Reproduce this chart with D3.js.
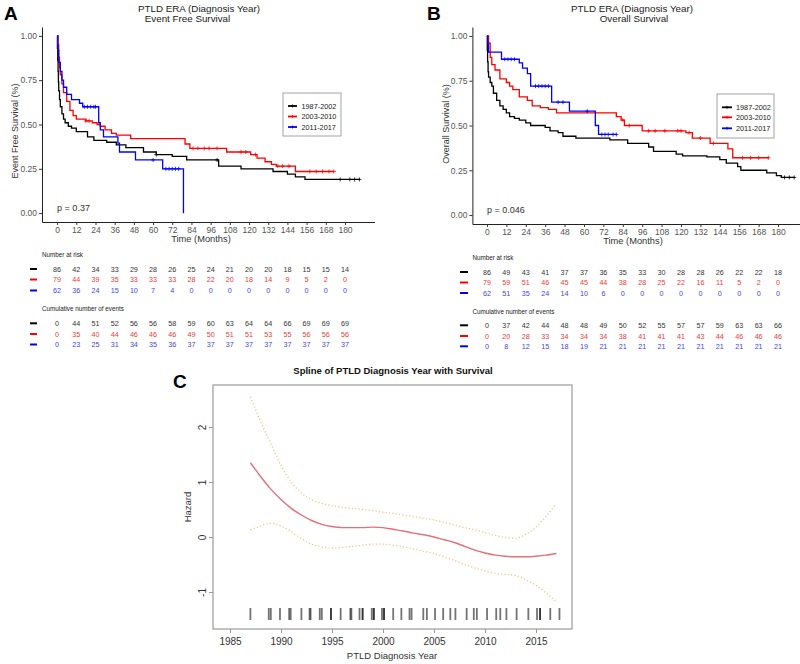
<!DOCTYPE html>
<html><head><meta charset="utf-8">
<script src="https://cdn.jsdelivr.net/npm/d3@7"></script>
<style>body{margin:0;background:#fff} svg{font-family:"Liberation Sans",Arial,sans-serif}</style>
</head><body><svg id="c" width="800" height="664"></svg>
<script>
// ---------------- DATA ----------------
const groups = ["1987-2002", "2003-2010", "2011-2017"];
const timeTicks = [0,12,24,36,48,60,72,84,96,108,120,132,144,156,168,180];
const survTicks = [0, 0.25, 0.5, 0.75, 1];

// Panel A : Event free survival (time in months, survival)
const efsBlack = [[0,1],[0.2,0.93],[0.4,0.86],[0.6,0.80],[0.8,0.74],[1,0.69],[1.5,0.64],[2,0.60],[3,0.56],[4,0.53],[5,0.51],[7,0.49],[9,0.48],[12,0.46],[19,0.43],[23,0.41],[31,0.40],[37,0.385],[43,0.37],[54,0.345],[62,0.33],[72,0.32],[81,0.30],[101,0.265],[115,0.25],[135,0.235],[144,0.22],[149,0.205],[155,0.19],[189,0.19]];
const efsRed = [[0,1],[0.5,0.95],[1,0.88],[1.5,0.82],[2,0.78],[3,0.73],[4,0.68],[6,0.63],[8,0.58],[10,0.55],[12,0.53],[18,0.52],[22,0.51],[25,0.50],[27,0.49],[30,0.47],[34,0.45],[37,0.44],[46,0.42],[80,0.39],[83,0.365],[106,0.345],[121,0.33],[125,0.31],[130,0.29],[134,0.275],[137,0.265],[149,0.235],[173,0.235]];
const efsBlue = [[0,1],[0.5,0.92],[1,0.85],[2,0.80],[3,0.75],[4,0.71],[6,0.67],[9,0.64],[14,0.62],[16,0.60],[26,0.51],[27,0.47],[29,0.43],[38,0.395],[39,0.345],[49,0.30],[66,0.25],[79,0]];
const efsCensorBlack = [62, 100, 177, 183, 186, 189];
const efsCensorRed = [18, 20, 85, 88, 92, 95, 100, 115, 118, 124, 138, 141, 145, 158, 162, 166, 170, 173];
const efsCensorBlue = [17, 19, 21, 23, 24, 60, 68, 70, 72, 74, 76];
const efsRisk = [
  [86,42,34,33,29,28,26,25,24,21,20,20,18,15,15,14],
  [79,44,39,35,33,33,33,28,22,20,18,14,9,5,2,0],
  [62,36,24,15,10,7,4,0,0,0,0,0,0,0,0,0]];
const efsEvents = [
  [0,44,51,52,56,56,58,59,60,63,64,64,66,69,69,69],
  [0,35,40,44,46,46,46,49,50,51,51,53,55,56,56,56],
  [0,23,25,31,34,35,36,37,37,37,37,37,37,37,37,37]];

// Panel B : Overall survival
const osBlack = [[0,1],[0.2,0.92],[0.4,0.855],[0.7,0.80],[1,0.77],[2,0.74],[3,0.72],[4,0.68],[6,0.64],[8,0.61],[10,0.59],[12,0.57],[14,0.55],[17,0.54],[20,0.53],[24,0.515],[27,0.50],[36,0.49],[39,0.47],[44,0.46],[47,0.44],[55,0.43],[76,0.42],[87,0.40],[100,0.38],[103,0.355],[117,0.34],[121,0.33],[136,0.325],[144,0.31],[148,0.29],[155,0.27],[157,0.25],[173,0.235],[179,0.22],[182,0.21],[190,0.21]];
const osRed = [[0,1],[1,0.96],[2,0.88],[3,0.84],[5,0.81],[8,0.76],[12,0.74],[14,0.72],[16,0.70],[20,0.66],[25,0.64],[28,0.61],[33,0.60],[38,0.59],[43,0.57],[80,0.55],[83,0.53],[85,0.50],[96,0.47],[123,0.46],[127,0.43],[138,0.40],[149,0.37],[152,0.32],[174,0.32]];
const osBlue = [[0,1],[0.5,0.96],[1,0.91],[9,0.87],[20,0.85],[22,0.82],[25,0.79],[27,0.72],[40,0.63],[51,0.58],[67,0.50],[69,0.45],[80,0.45]];
const osCensorBlack = [184, 187, 190];
const osCensorRed = [84, 88, 100, 104, 110, 118, 120, 125, 132, 140, 158, 163, 168, 174];
const osCensorBlue = [11, 13, 15, 17, 30, 32, 34, 36, 38, 44, 47, 62, 71, 73, 75, 78, 80];
const osRisk = [
  [86,49,43,41,37,37,36,35,33,30,28,28,26,22,22,18],
  [79,59,51,46,45,45,44,38,28,25,22,16,11,5,2,0],
  [62,51,35,24,14,10,6,0,0,0,0,0,0,0,0,0]];
const osEvents = [
  [0,37,42,44,48,48,49,50,52,55,57,57,59,63,63,66],
  [0,20,28,33,34,34,34,38,41,41,41,43,44,46,46,46],
  [0,8,12,15,18,19,21,21,21,21,21,21,21,21,21,21]];

// Panel C : spline of diagnosis year
const yearTicks = [1985,1990,1995,2000,2005,2010,2015];
const hazardTicks = [-1,0,1,2];
const splineYear = [1987,1988,1989,1990,1991,1992,1993,1994,1995,1996,1997,1998,1999,2000,2001,2002,2003,2004,2005,2006,2007,2008,2009,2010,2011,2012,2013,2014,2015,2016,2017];
const hazard = [1.35,1.1,0.87,0.68,0.52,0.40,0.30,0.23,0.19,0.17,0.17,0.17,0.18,0.17,0.14,0.11,0.07,0.04,0.00,-0.05,-0.10,-0.17,-0.24,-0.29,-0.33,-0.35,-0.36,-0.36,-0.35,-0.33,-0.30];
const hazardUpper = [2.55,2.1,1.7,1.3,1.0,0.8,0.68,0.61,0.57,0.54,0.52,0.50,0.48,0.45,0.43,0.40,0.37,0.34,0.31,0.27,0.22,0.17,0.13,0.08,0.03,-0.01,-0.02,0.05,0.18,0.38,0.60];
const hazardLower = [0.13,0.2,0.25,0.2,0.1,-0.03,-0.13,-0.18,-0.2,-0.19,-0.17,-0.15,-0.13,-0.13,-0.15,-0.18,-0.22,-0.26,-0.30,-0.36,-0.43,-0.50,-0.56,-0.62,-0.66,-0.68,-0.70,-0.78,-0.88,-1.02,-1.18];
const rugYears = [1987,1988.8,1989.0,1989.9,1990.8,1990.95,1992.0,1992.8,1992.9,1993.8,1994.0,1994.9,1994.9,1995.85,1996.8,1996.9,1997.7,1998.0,1998.0,1998.9,1999.1,1999.1,1999.9,2000.1,2000.1,2001.0,2001.8,2002.6,2002.8,2003.95,2004.3,2005.1,2005.9,2006.6,2007.1,2008.2,2008.9,2009.2,2010.2,2011.1,2011.5,2012.1,2013.1,2014.25,2015.1,2015.4,2015.4,2016.4,2017.3];

// ---------------- DRAWING ----------------
const svg = d3.select("#c");
const lineCol = ["#000000", "#ff0000", "#0000ff"];
const textCol = ["#333333", "#f03a3a", "#3f3ff0"];

function survAt(series, t) {
  let s = series[0][1];
  for (const p of series) { if (p[0] <= t) s = p[1]; }
  return s;
}

function kmPanel(cfg) {
  const g = svg.append("g");
  const x = cfg.x, y = cfg.y;
  const y0 = y.range()[0];
  const xa = g.append("g").attr("transform", `translate(0,${y0})`)
    .call(d3.axisBottom(x).tickValues(timeTicks).tickSize(3).tickPadding(2).tickSizeOuter(0));
  const ya = g.append("g").attr("transform", `translate(${x.range()[0]},0)`)
    .call(d3.axisLeft(y).tickValues(survTicks).tickFormat(d3.format(".2f")).tickSize(3).tickPadding(2).tickSizeOuter(0));
  [xa, ya].forEach(a => {
    a.select(".domain").attr("stroke", "#222").attr("stroke-width", 1);
    a.selectAll(".tick line").attr("stroke", "#333");
    a.selectAll("text").attr("fill", "#555").style("font-size", "8.5px").style("font-family", '"Liberation Sans",Arial,sans-serif');
  });
  const line = d3.line().x(d => x(d[0])).y(d => y(d[1])).curve(d3.curveStepAfter);
  cfg.series.forEach((s, i) => {
    g.append("path").datum(s).attr("d", line).attr("fill", "none")
      .attr("stroke", lineCol[i]).attr("stroke-width", 1.3);
    cfg.censor[i].forEach(t => {
      const cx = x(t), cy = y(survAt(s, t));
      g.append("path").attr("d", `M${cx-2},${cy}H${cx+2}M${cx},${cy-2}V${cy+2}`)
        .attr("stroke", lineCol[i]).attr("stroke-width", 0.8);
    });
  });
  g.append("text").attr("x", cfg.t1[0]).attr("y", cfg.t1[1]).attr("text-anchor", "middle")
    .style("font-size", "9.8px").attr("fill", "#222").text("PTLD ERA (Diagnosis Year)");
  g.append("text").attr("x", cfg.t2[0]).attr("y", cfg.t2[1]).attr("text-anchor", "middle")
    .style("font-size", "9.8px").attr("fill", "#222").text(cfg.sub);
  g.append("text").attr("x", cfg.label[0]).attr("y", cfg.label[1])
    .style("font-size", "19px").style("font-weight", "bold").text(cfg.letter);
  g.append("text").attr("transform", `translate(${cfg.ytitle[0]},${cfg.ytitle[1]}) rotate(-90)`)
    .attr("text-anchor", "middle").style("font-size", "9px").attr("fill", "#333").text(cfg.ylab);
  g.append("text").attr("x", cfg.xtitle[0]).attr("y", cfg.xtitle[1]).attr("text-anchor", "middle")
    .style("font-size", "9.3px").attr("fill", "#333").text("Time (Months)");
  g.append("text").attr("x", x(0)).attr("y", cfg.pY).style("font-size", "9px").attr("fill", "#333").text(cfg.p);
  const L = cfg.legend;
  g.append("rect").attr("x", L.x).attr("y", L.y).attr("width", L.w).attr("height", L.h)
    .attr("fill", "#fff").attr("stroke", "#999").attr("stroke-width", 0.9);
  groups.forEach((name, i) => {
    const ly = L.rows[i];
    g.append("line").attr("x1", L.kx[0]).attr("x2", L.kx[1]).attr("y1", ly).attr("y2", ly)
      .attr("stroke", lineCol[i]).attr("stroke-width", 1.8);
    const mx = (L.kx[0] + L.kx[1]) / 2;
    g.append("path").attr("d", `M${mx-1.5},${ly}H${mx+1.5}M${mx},${ly-1.5}V${ly+1.5}`)
      .attr("stroke", lineCol[i]).attr("stroke-width", 0.8);
    g.append("text").attr("x", L.tx).attr("y", ly + 2.6).style("font-size", "7.3px").attr("fill", "#222").text(name);
  });
  const T = cfg.table;
  g.append("text").attr("x", x.range()[0]).attr("y", T.head1).style("font-size", "6.3px").attr("fill", "#222").text("Number at risk");
  g.append("text").attr("x", x.range()[0]).attr("y", T.head2).style("font-size", "6.3px").attr("fill", "#222").text("Cumulative number of events");
  [[cfg.risk, T.rows1], [cfg.events, T.rows2]].forEach(([tab, rows]) => {
    tab.forEach((vals, i) => {
      g.append("line").attr("x1", T.dash[0]).attr("x2", T.dash[1]).attr("y1", rows[i]).attr("y2", rows[i])
        .attr("stroke", lineCol[i]).attr("stroke-width", 2);
      g.selectAll(null).data(vals).enter().append("text")
        .attr("x", (d, j) => x(timeTicks[j])).attr("y", rows[i] + 2.5)
        .attr("text-anchor", "middle").style("font-size", "7.2px").attr("fill", textCol[i]).text(d => d);
    });
  });
}

kmPanel({
  x: d3.scaleLinear().domain([-9.45, 198.45]).range([42, 374.5]),
  y: d3.scaleLinear().domain([-0.05, 1.05]).range([222, 27]),
  series: [efsBlack, efsRed, efsBlue],
  censor: [efsCensorBlack, efsCensorRed, efsCensorBlue],
  t1: [199, 12], t2: [187.5, 22], sub: "Event Free Survival",
  label: [4, 20], letter: "A",
  ytitle: [18, 131], ylab: "Event Free Survival (%)",
  xtitle: [201, 242], p: "p = 0.37", pY: 211,
  legend: {x: 283, y: 93, w: 58, h: 43, rows: [106, 116.5, 127], kx: [288, 297], tx: 301.5},
  table: {head1: 257, head2: 310.5, rows1: [269, 279.5, 290.5], rows2: [323.3, 334, 344.5], dash: [30, 37]},
  risk: efsRisk, events: efsEvents
});

kmPanel({
  x: d3.scaleLinear().domain([-9, 195]).range([472.4, 802.3]),
  y: d3.scaleLinear().domain([-0.05, 1.05]).range([224, 27]),
  series: [osBlack, osRed, osBlue],
  censor: [osCensorBlack, osCensorRed, osCensorBlue],
  t1: [632, 12], t2: [634, 22], sub: "Overall Survival",
  label: [427, 20], letter: "B",
  ytitle: [448.5, 124], ylab: "Overall Survival (%)",
  xtitle: [633, 244], p: "p = 0.046", pY: 213,
  legend: {x: 717, y: 94, w: 57, h: 44, rows: [107.3, 117.3, 128.3], kx: [722, 732], tx: 736},
  table: {head1: 259.5, head2: 313.5, rows1: [272, 282.5, 293], rows2: [325.3, 336, 346.3], dash: [460, 468]},
  risk: osRisk, events: osEvents
});

// ---------- Panel C ----------
(function () {
  const g = svg.append("g");
  const x = d3.scaleLinear().domain([1985, 2015]).range([230, 536]);
  const y = d3.scaleLinear().domain([0, 2]).range([537, 427]);
  const box = {x0: 213, y0: 385, x1: 572, y1: 629};
  g.append("rect").attr("x", box.x0).attr("y", box.y0).attr("width", box.x1 - box.x0).attr("height", box.y1 - box.y0)
    .attr("fill", "none").attr("stroke", "#999").attr("stroke-width", 1.2);
  const xa = g.append("g").attr("transform", `translate(0,${box.y1})`)
    .call(d3.axisBottom(x).tickValues(yearTicks).tickFormat(d => String(d)).tickSize(4).tickPadding(5));
  xa.select(".domain").remove();
  xa.selectAll(".tick line").attr("stroke", "#999");
  xa.selectAll("text").attr("fill", "#333").style("font-size", "10px");
  const ya = g.append("g").attr("transform", `translate(${box.x0},0)`)
    .call(d3.axisLeft(y).tickValues(hazardTicks).tickFormat(d => String(d)).tickSize(4));
  ya.select(".domain").remove();
  ya.selectAll(".tick line").attr("stroke", "#999");
  ya.selectAll("text").attr("x", 0).attr("dy", 0).attr("text-anchor", "middle")
    .attr("transform", "translate(-7.5,0) rotate(-90)").attr("fill", "#333").style("font-size", "10px");

  const pts = (vals) => splineYear.map((yr, i) => [yr, vals[i]]);
  const line = d3.line().x(d => x(d[0])).y(d => y(d[1])).curve(d3.curveMonotoneX);
  [hazardUpper, hazardLower].forEach(v => {
    g.append("path").datum(pts(v)).attr("d", line).attr("fill", "none")
      .attr("stroke", "#f2c487").attr("stroke-width", 1.3).attr("stroke-dasharray", "1.2,2.2");
  });
  g.append("path").datum(pts(hazard)).attr("d", line).attr("fill", "none")
    .attr("stroke", "#e5707a").attr("stroke-width", 1.4);

  g.selectAll(null).data(rugYears).enter().append("line")
    .attr("x1", d => x(d)).attr("x2", d => x(d)).attr("y1", 608).attr("y2", 620)
    .attr("stroke", "#000").attr("stroke-opacity", 0.55).attr("stroke-width", 1.8);

  g.append("text").attr("x", 393).attr("y", 374).attr("text-anchor", "middle")
    .style("font-size", "9.5px").style("font-weight", "bold").attr("fill", "#111")
    .text("Spline of PTLD Diagnosis Year with Survival");
  g.append("text").attr("x", 173).attr("y", 388).style("font-size", "19px").style("font-weight", "bold").text("C");
  g.append("text").attr("x", 392).attr("y", 659).attr("text-anchor", "middle")
    .style("font-size", "9.5px").attr("fill", "#333").text("PTLD Diagnosis Year");
  g.append("text").attr("transform", "translate(190.5,507) rotate(-90)").attr("text-anchor", "middle")
    .style("font-size", "9.5px").attr("fill", "#333").text("Hazard");
})();
</script></body></html>
